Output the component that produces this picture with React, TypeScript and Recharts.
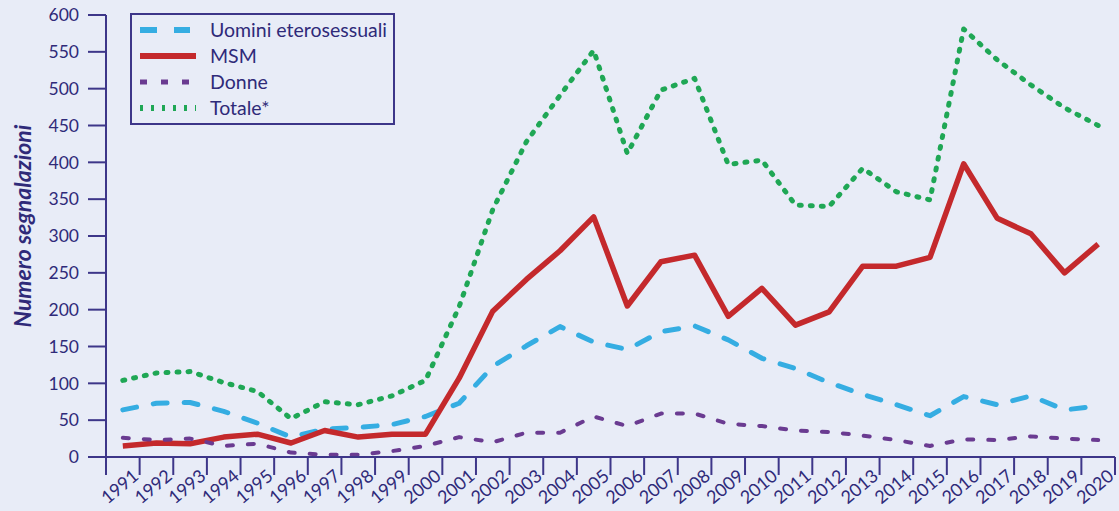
import React from 'react';
import { LineChart, Line, XAxis, YAxis, Legend } from 'recharts';

const years = [1991,1992,1993,1994,1995,1996,1997,1998,1999,2000,2001,2002,2003,2004,2005,2006,2007,2008,2009,2010,2011,2012,2013,2014,2015,2016,2017,2018,2019,2020];
const yearLabels = years.map(String);
const uominiEtero = [64,73,74,62,46,27,38,40,44,55,73,123,151,177,156,146,170,178,159,134,120,101,85,71,56,82,71,83,64,69];
const msm = [15,19,18,27,31,19,36,27,31,31,107,198,241,280,326,205,265,274,191,229,179,197,259,259,271,398,324,303,250,289];
const donne = [26,23,25,15,18,6,3,3,8,15,27,20,33,33,55,42,59,59,45,42,36,34,29,23,15,24,23,28,25,23];
const totale = [104,114,116,101,89,52,75,71,83,104,204,336,428,491,552,412,498,514,397,403,342,340,392,360,349,581,539,505,474,450];
const yTicks = [0,50,100,150,200,250,300,350,400,450,500,550,600];
const yTitle = 'Numero segnalazioni';

const BG = '#e8ecf7';
const AXIS = '#3d3689';
const TEXT = '#2f2a79';
const FONT = 'Lato, "Open Sans", sans-serif';

const series = [
  { key: 'uomini', name: 'Uomini eterosessuali', color: '#35ade2', width: 5, dash: '14 17', legendDash: '17 17', cap: 'round' },
  { key: 'msm', name: 'MSM', color: '#c4292c', width: 5.5, dash: undefined, legendDash: undefined, cap: 'butt' },
  { key: 'donne', name: 'Donne', color: '#6a3b91', width: 4, dash: '6 15', legendDash: '7 14', cap: 'round' },
  { key: 'totale', name: 'Totale*', color: '#1fa755', width: 5, dash: '2 9', legendDash: '3 8', cap: 'round' },
];

const data = years.map((y, i) => ({
  year: y,
  uomini: uominiEtero[i],
  msm: msm[i],
  donne: donne[i],
  totale: totale[i],
}));

// boundaries between year bands (tick marks sit between categories)
const xTicks = [years[0] - 0.5, ...years.map((y) => y + 0.5)];

const XTick = (props: any) => {
  const { x, y, index } = props;
  if (!index) return <g />;
  const label = yearLabels[index - 1];
  const ax = x;
  const ay = y + 1;
  return (
    <text
      x={ax}
      y={ay}
      textAnchor="end"
      transform={`rotate(-40, ${ax}, ${ay})`}
      fill={TEXT}
      fontSize={18}
      fontFamily={FONT}
    >
      {label}
    </text>
  );
};

const LegendBox = () => (
  <div
    style={{
      width: 265,
      height: 112,
      boxSizing: 'border-box',
      border: `2px solid ${AXIS}`,
      paddingTop: 2,
      fontFamily: FONT,
      background: BG,
    }}
  >
    {series.map((s) => (
      <div key={s.key} style={{ display: 'flex', alignItems: 'center', height: 26 }}>
        <svg width={72} height={26} style={{ display: 'block', marginLeft: 6 }}>
          <line
            x1={2}
            x2={s.key === 'uomini' ? 52 : 58}
            y1={13}
            y2={13}
            stroke={s.color}
            strokeWidth={s.key === 'msm' ? 6 : s.width + 1}
            strokeDasharray={s.legendDash}
          />
        </svg>
        <span style={{ fontSize: 19.5, color: TEXT, lineHeight: '26px' }}>{s.name}</span>
      </div>
    ))}
  </div>
);

export default function App() {
  return (
    <div style={{ position: 'absolute', left: 0, top: 0, width: 1119, height: 511, background: BG }}>
      <LineChart
        width={1119}
        height={511}
        data={data}
        margin={{ top: 15, right: 4, bottom: 0, left: 0 }}
      >
        <XAxis
          dataKey="year"
          type="number"
          domain={[xTicks[0], xTicks[xTicks.length - 1]]}
          ticks={xTicks}
          interval={0}
          height={54}
          tickSize={18}
          tick={<XTick />}
          axisLine={{ stroke: AXIS, strokeWidth: 2 }}
          tickLine={{ stroke: AXIS, strokeWidth: 2 }}
        />
        <YAxis
          domain={[0, 600]}
          ticks={yTicks}
          interval={0}
          width={106}
          tickSize={18}
          tickMargin={9}
          tick={{ fill: TEXT, fontSize: 17.5, fontFamily: FONT }}
          axisLine={{ stroke: AXIS, strokeWidth: 2 }}
          tickLine={{ stroke: AXIS, strokeWidth: 2 }}
          label={{
            content: (p: any) => {
              const vb = p.viewBox || { x: 0, y: 15, width: 106, height: 442 };
              const cx = 22;
              const cy = vb.y + vb.height / 2 - 10;
              return (
                <text
                  x={cx}
                  y={cy}
                  transform={`rotate(-90, ${cx}, ${cy})`}
                  textAnchor="middle"
                  dominantBaseline="central"
                  fill={TEXT}
                  fontSize={23}
                  fontWeight={700}
                  fontStyle="italic"
                  fontFamily={FONT}
                >
                  {yTitle}
                </text>
              );
            },
          }}
        />
        <Legend
          layout="vertical"
          align="center"
          verticalAlign="middle"
          content={<LegendBox />}
          wrapperStyle={{ position: 'absolute', left: 130, top: 13, width: 265, height: 112 }}
        />
        {series.map((s) => (
          <Line
            key={s.key}
            dataKey={s.key}
            name={s.name}
            type="linear"
            stroke={s.color}
            strokeWidth={s.width}
            strokeDasharray={s.dash}
            strokeLinecap={s.cap as any}
            strokeLinejoin="round"
            dot={false}
            activeDot={false}
            isAnimationActive={false}
          />
        ))}
      </LineChart>
    </div>
  );
}
